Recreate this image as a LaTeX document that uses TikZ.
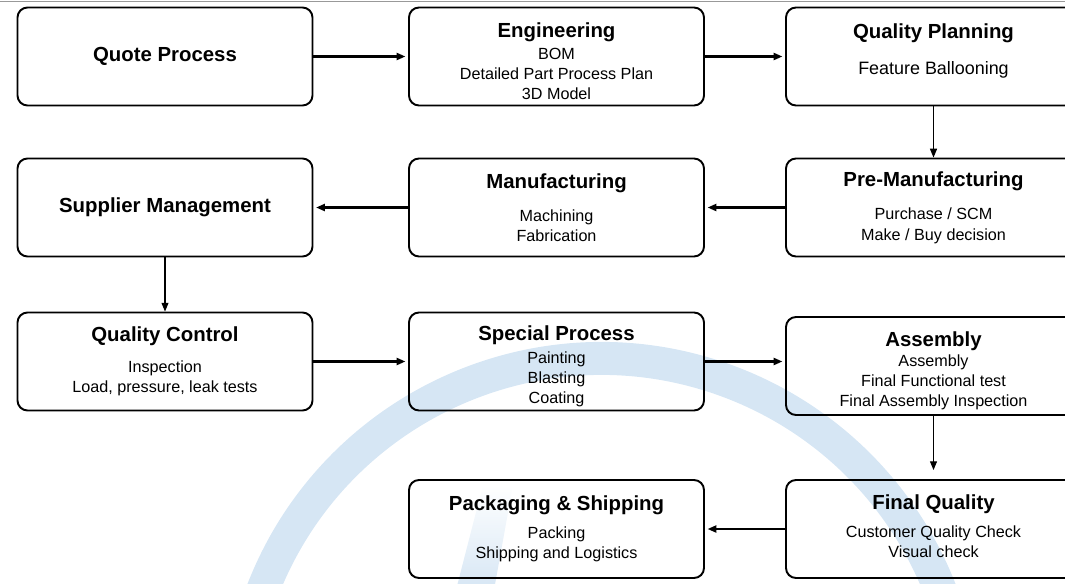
\documentclass[tikz,border=0pt]{standalone}
\usepackage{fontspec}
\setmainfont{Liberation Sans}
\usetikzlibrary{positioning, arrows.meta, calc, fadings}

\definecolor{wmblue}{RGB}{214,230,244}

\tikzset{
  stage/.style={draw, line width=1.1pt, rounded corners=0.2cm, minimum width=5.9cm,
    minimum height=1.96cm, inner sep=0pt, align=center,
    font=\fontsize{9.2}{11.4}\selectfont},
  flow/.style={->, line width=1.2pt, shorten >=1.5pt},
  drop/.style={->, line width=0.6pt}
}
\newcommand{\stagetitle}[1]{{\fontsize{11.6}{11.4}\selectfont\bfseries #1}}
\newcommand{\lift}[1]{\rule{0pt}{#1}}

\begin{document}
\begin{tikzpicture}[node distance=2cm, on grid, >={Triangle[length=5pt,width=4pt]}]
  \useasboundingbox (0,0) rectangle (21.3,-11.66);

  % watermark behind the chart
  \coordinate (mark) at (12.03,-14.44);
  \draw[wmblue, line width=0.66cm] ($(mark)+(160:7.27)$) arc[start angle=160, end angle=20, radius=7.27];
  \fill[wmblue, path fading=north] (9.12,-11.8) -- (9.88,-11.8) -- (10.26,-9.7) -- (9.66,-9.7) -- cycle;
  \draw[gray!80, line width=0.6pt] (0,-0.03) -- (21.3,-0.03);

  \node[stage] (quote) at (3.30,-1.13) {\stagetitle{Quote Process}};
  \node[stage] (eng) [right=7.83cm of quote] {\lift{14pt}\stagetitle{Engineering}\\[0.8pt] BOM\\ Detailed Part Process Plan\\ 3D Model};
  \node[stage] (qplan) [right=7.54cm of eng] {\lift{11.2pt}\stagetitle{Quality Planning}\\[9pt] {\fontsize{10.2}{11.4}\selectfont Feature Ballooning}\\[0pt] \mbox{}};
  \node[stage] (preman) [below=3.02cm of qplan] {\stagetitle{Pre-Manufacturing}\\[7.7pt] Purchase / SCM\\ Make / Buy decision};
  \node[stage] (manuf) [left=7.54cm of preman] {\stagetitle{Manufacturing}\\[7.7pt] Machining\\ Fabrication};
  \node[stage] (supplier) [left=7.83cm of manuf] {\stagetitle{Supplier Management}};
  \node[stage] (qcontrol) [below=3.08cm of supplier] {\stagetitle{Quality Control}\\[6pt] Inspection\\ Load, pressure, leak tests};
  \node[stage] (special) [right=7.83cm of qcontrol] {\lift{14pt}\stagetitle{Special Process}\\[1.4pt] Painting\\ Blasting\\ Coating};
  \node[stage] (assembly) [below=3.17cm of preman] {\lift{14pt}\stagetitle{Assembly}\\ Assembly\\ Final Functional test\\ Final Assembly Inspection};
  \node[stage] (finalq) [below=3.26cm of assembly] {\stagetitle{Final Quality}\\[4.3pt] Customer Quality Check\\ Visual check\rule[-3.4pt]{0pt}{0pt}};
  \node[stage] (packing) [left=7.54cm of finalq] {\stagetitle{Packaging \& Shipping}\\[4.8pt] Packing\\ Shipping and Logistics};

  \draw[flow] (quote) -- (eng);
  \draw[flow] (eng) -- (qplan);
  \draw[drop] (qplan) -- (preman);
  \draw[flow] (preman) -- (manuf);
  \draw[flow] (manuf) -- (supplier);
  \draw[drop] (supplier) -- (qcontrol);
  \draw[flow] (qcontrol) -- (special);
  \draw[flow] (special.east) -- (special.east -| assembly.west);
  \draw[drop, shorten >=0.18cm] (assembly) -- (finalq);
  \draw[flow] (finalq) -- (packing);
\end{tikzpicture}
\end{document}
